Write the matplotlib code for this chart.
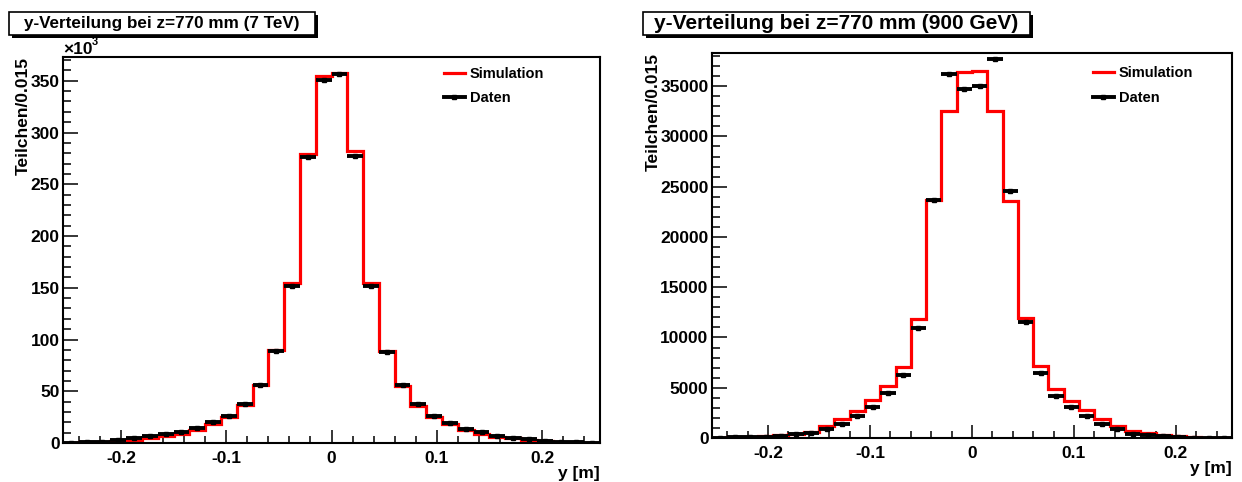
import numpy as np
import matplotlib
matplotlib.use('Agg')
import matplotlib.pyplot as plt
from matplotlib.lines import Line2D
from matplotlib.patches import Rectangle
from matplotlib.ticker import MultipleLocator, FormatStrFormatter

plt.rcParams['font.family'] = ['Liberation Sans', 'DejaVu Sans']
plt.rcParams['font.weight'] = 'bold'

# ─── Binning ─────────────────────────────────────────────────────────────────
Y_LO, Y_HI, N_BINS = -0.255, 0.255, 34

# ─── 7 TeV (counts in units of 10^3) ─────────────────────────────────────────
sim_7tev = [0.2, 0.5, 1.0, 2.0, 3.3, 5.0, 6.8, 9.0, 12.5, 18.0, 25.0, 36.5,
            56.5, 89.5, 155, 279, 355, 357.5, 282, 155, 89, 55.5, 36, 25,
            18, 12.5, 9, 6.2, 4.5, 3.0, 1.8, 1.0, 0.4, 0.2]
data_7tev = [0.1, 0.6, 1.3, 2.6, 4.5, 6.4, 8.4, 11, 14.5, 20, 26.4, 38,
             56.4, 88.5, 151.5, 276, 351, 357, 277, 151.5, 87.7, 56, 37.4,
             26.4, 19.6, 13.8, 10.2, 7, 5.2, 3.6, 2.3, 1.3, 0.6, 0.2]

# ─── 900 GeV (counts) ────────────────────────────────────────────────────────
sim_900gev = [30, 50, 100, 165, 265, 400, 560, 1160, 1890, 2710, 3800, 5200,
              7100, 11800, 23700, 32500, 36400, 36500, 32500, 23600, 11900,
              7200, 4870, 3640, 2750, 1890, 1190, 730, 500, 330, 230, 100,
              40, 20]
data_900gev = [20, 50, 80, 130, 230, 360, 500, 930, 1390, 2150, 3080, 4470,
               6290, 10920, 23700, 36200, 34700, 35000, 37700, 24600, 11500,
               6500, 4200, 3050, 2150, 1420, 930, 430, 330, 230, 130, 30,
               20, 10]

titles = ['y-Verteilung bei z=770 mm (7 TeV)',
          'y-Verteilung bei z=770 mm (900 GeV)']
legend_labels = ['Simulation', 'Daten']
y_label = 'Teilchen/0.015'
x_label = 'y [m]'

W, H = 1242, 482


def px_box(x0, y0, x1, y1):
    """pixel box (top-left origin) -> figure fraction rect"""
    return [x0 / W, (H - y1) / H, (x1 - x0) / W, (y1 - y0) / H]


def title_box(fig, x0, y0, x1, y1, text, size):
    l, b, w, h = px_box(x0, y0, x1, y1)
    # shadow
    fig.patches.append(Rectangle((l + 3 / W, b - 3 / H), w, h, transform=fig.transFigure,
                                 facecolor='black', edgecolor='black', lw=0, zorder=1))
    fig.patches.append(Rectangle((l, b), w, h, transform=fig.transFigure,
                                 facecolor='white', edgecolor='black', lw=1.2, zorder=2))
    fig.text(l + w / 2, b + h / 2, text, ha='center', va='center',
             fontsize=size, fontweight='bold', zorder=3)


def draw_panel(ax, sim, data, ymax, ymajor, yminor, legend_xy, ylab_x):
    edges = np.linspace(Y_LO, Y_HI, N_BINS + 1)
    centers = 0.5 * (edges[:-1] + edges[1:])
    half = 0.5 * (edges[1] - edges[0])

    ax.stairs(sim, edges, color='red', lw=2.3, baseline=None, zorder=2)
    ax.errorbar(centers, data, xerr=half, fmt='s', ms=3.5, color='black',
                elinewidth=2.8, capsize=0, zorder=3)

    ax.set_xlim(Y_LO, Y_HI)
    ax.set_ylim(0, ymax)

    ax.xaxis.set_major_locator(MultipleLocator(0.1))
    ax.xaxis.set_minor_locator(MultipleLocator(0.02))
    ax.xaxis.set_major_formatter(FormatStrFormatter('%g'))
    ax.yaxis.set_major_locator(MultipleLocator(ymajor))
    ax.yaxis.set_minor_locator(MultipleLocator(yminor))
    ax.yaxis.set_major_formatter(FormatStrFormatter('%g'))

    ax.tick_params(which='both', direction='in', top=False, right=False,
                   labelsize=12.5, width=1.1)
    ax.tick_params(axis='x', which='major', length=9.4, pad=6)
    ax.tick_params(axis='x', which='minor', length=5)
    ax.tick_params(axis='y', which='major', length=11, pad=2.5)
    ax.tick_params(axis='y', which='minor', length=5.8)
    for lbl in ax.get_xticklabels() + ax.get_yticklabels():
        lbl.set_fontweight('bold')
    for sp in ax.spines.values():
        sp.set_linewidth(1.5)

    ax.text(ylab_x, 1.0, y_label, rotation=90, ha='center', va='top',
            fontsize=12.5, fontweight='bold', transform=ax.transAxes)
    ax.text(1.0, -0.078, x_label, ha='right', va='center',
            fontsize=12.5, fontweight='bold', transform=ax.transAxes)

    handles = [Line2D([], [], color='red', lw=2.3),
               Line2D([], [], color='black', lw=2.8, marker='s', ms=3.5)]
    ax.legend(handles, legend_labels, loc='upper left', bbox_to_anchor=legend_xy,
              frameon=False, fontsize=10.5, handlelength=1.4, handletextpad=0.35,
              labelspacing=0.7, borderpad=0, borderaxespad=0,
              prop={'weight': 'bold', 'size': 10.5})


fig = plt.figure(figsize=(W / 100, H / 100), dpi=100)

# ─── Left panel: 7 TeV ───────────────────────────────────────────────────────
ax1 = fig.add_axes(px_box(63, 57, 600, 443))
draw_panel(ax1, sim_7tev, data_7tev, 373, 50, 10, (0.71, 0.975), -0.0745)
fig.text(63 / W, (H - 54) / H, '×10', fontsize=12.5, fontweight='bold',
         ha='left', va='baseline')
fig.text(92 / W, (H - 45) / H, '3', fontsize=8, fontweight='bold',
         ha='left', va='baseline')

# ─── Right panel: 900 GeV ────────────────────────────────────────────────────
ax2 = fig.add_axes(px_box(712, 53, 1232, 438))
draw_panel(ax2, sim_900gev, data_900gev, 38300, 5000, 1000, (0.733, 0.965), -0.1135)

# ─── Title boxes ─────────────────────────────────────────────────────────────
title_box(fig, 9, 12, 315, 35, titles[0], 12.3)
title_box(fig, 643, 12, 1030, 35, titles[1], 15)

fig.savefig('out.png', dpi=100)
plt.close(fig)
